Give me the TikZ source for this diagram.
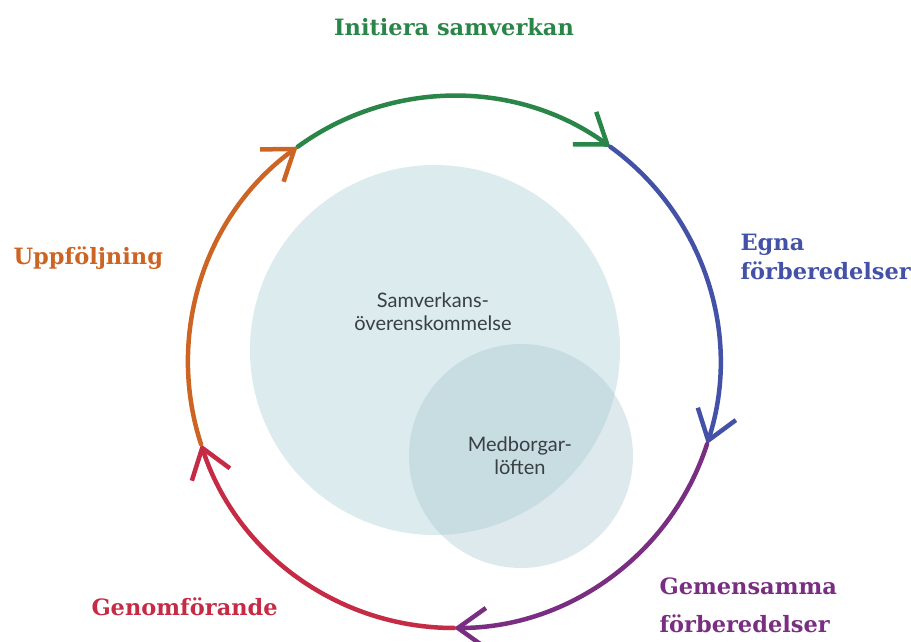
\documentclass[tikz,border=0pt]{standalone}
\usepackage{fontspec}
\setmainfont{DejaVu Serif}
\newfontfamily\latofont{Lato}
\usetikzlibrary{arrows.meta}
\usetikzlibrary{positioning}
\definecolor{cgreen}{HTML}{2A8548}
\definecolor{cblue}{HTML}{4352A6}
\definecolor{cpurple}{HTML}{7A2E82}
\definecolor{cred}{HTML}{C62B45}
\definecolor{corange}{HTML}{CC6423}
\definecolor{cpale}{RGB}{220,235,237}
\definecolor{cteal}{RGB}{170,200,208}
\definecolor{ctext}{HTML}{3A3F45}
\tikzset{stage/.style = {font=\bfseries\fontsize{22.5}{29}\selectfont, align=left}}
\tikzset{inner/.style = {font=\latofont\fontsize{20}{23}\selectfont, text=ctext, align=center}}
\tikzset{ring/.style = {line width=4.5, line cap=round, -{Straight Barb[length=28, width=40]}}}

\begin{document}
\begin{tikzpicture}[x=1pt, y=1pt]
    \useasboundingbox (0, 0) rectangle (911, 641);

    % the two plans in the middle
    \fill [cpale] (435, 291) circle (185);
    \fill [cteal, fill opacity=0.4] (521, 185) circle (112);
    \node [inner] (samverkan) at (433, 329) {Samverkans-\\överenskommelse};
    \node [inner] (medborgar) at (520, 185) {Medborgar-\\löften};

    % the cycle
    \coordinate (c) at (454, 279);
    \foreach \a/\col in {126/cgreen, 54/cblue, -18/cpurple, -90/cred, -162/corange} {
      \pgfmathsetmacro\e{\a - 72};
      \draw [ring, \col] (c) ++(\a:266) arc [start angle=\a, end angle=\e, radius=266];
    }

    \node [stage, text=cgreen] (initiera) at (454, 614) {Initiera samverkan};
    \node [stage, text=cblue, anchor=west] (egna) at (737, 384) {Egna\\förberedelser};
    \node [stage, text=cpurple, anchor=west, font=\bfseries\fontsize{22.5}{38}\selectfont] (gemensamma) at (656, 36) {Gemensamma\\förberedelser};
    \node [stage, text=cred, anchor=west] (genomf) at (88, 34) {Genomförande};
    \node [stage, text=corange, anchor=west] (uppf) at (10, 383) {Uppföljning};
  \end{tikzpicture}
\end{document}
